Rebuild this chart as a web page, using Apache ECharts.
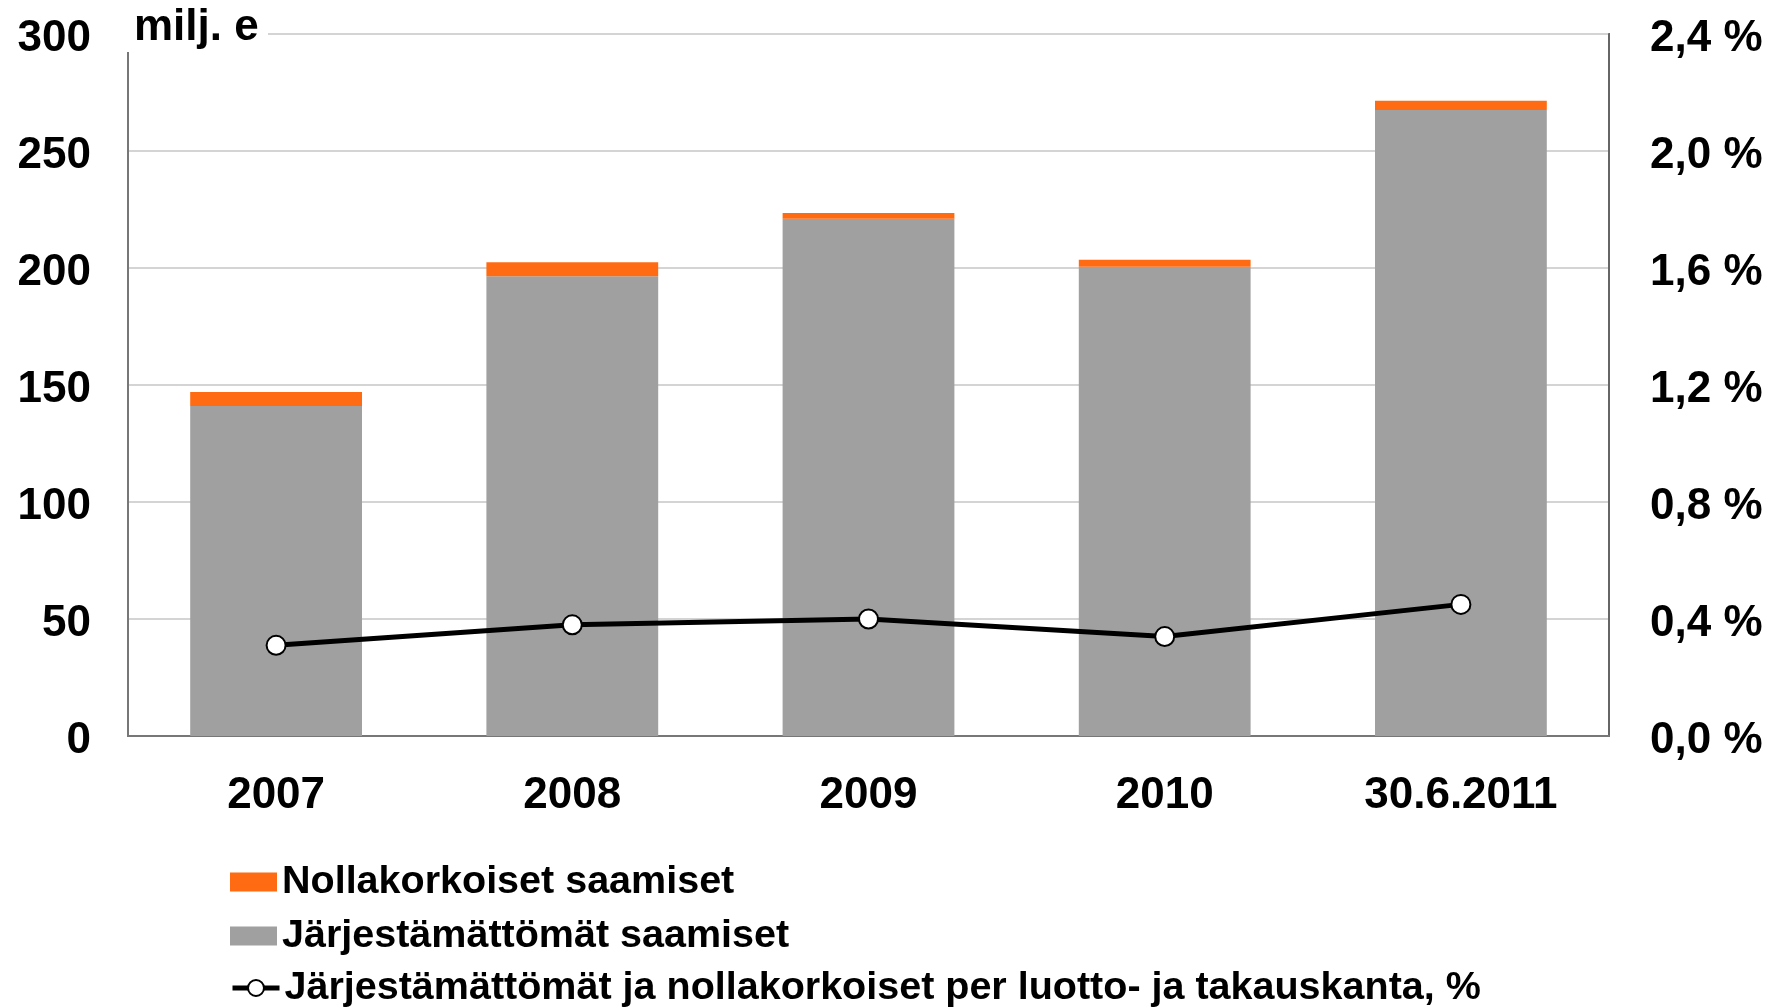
<!DOCTYPE html>
<html>
<head>
<meta charset="utf-8">
<script src="https://cdn.jsdelivr.net/npm/echarts@6/dist/echarts.min.js"></script>
<style>
  html, body { margin: 0; padding: 0; background: #ffffff; }
  #chart { width: 1782px; height: 1007px; }
</style>
</head>
<body>
<div id="chart"></div>
<script>
// Luottosalkun järjestämättömät ja nollakorkoiset saamiset
const categories = ['2007', '2008', '2009', '2010', '30.6.2011'];
const jarjestamattomat = [141, 196.5, 221, 200.5, 267.5];   // milj. e
const nollakorkoiset = [6, 6, 2.5, 3, 4];                    // milj. e
const osuusProsentti = [0.31, 0.38, 0.40, 0.34, 0.45];        // % luotto- ja takauskannasta

const leftTicks = { min: 0, max: 300, interval: 50 };
const rightTicks = { min: 0, max: 2.4, interval: 0.4 };

const nameOrange = 'Nollakorkoiset saamiset';
const nameGray = 'Järjestämättömät saamiset';
const nameLine = 'Järjestämättömät ja nollakorkoiset per luotto- ja takauskanta, %';

const FONT = "'Liberation Sans', Arial, sans-serif";
const axisText = { color: '#000', fontFamily: FONT, fontWeight: 'bold', fontSize: 44 };
const legendText = { color: '#000', fontFamily: FONT, fontWeight: 'bold', fontSize: 39.5, lineHeight: 40 };
// value labels sit slightly below their grid line
const tickRich = { t: Object.assign({ padding: [9, 0, 0, 0] }, axisText) };

function legendRow(name, top, extra) {
  return Object.assign({
    data: [name], orient: 'vertical', left: 230, top: top, padding: 0,
    itemWidth: 47, itemHeight: 19, itemGap: 0, selectedMode: false,
    textStyle: legendText
  }, extra);
}

const chart = echarts.init(document.getElementById('chart'), null, { renderer: 'canvas' });
chart.setOption({
  animation: false,
  backgroundColor: '#ffffff',
  grid: {
    left: 128, right: 173, top: 34, bottom: 271,
    show: true, borderColor: '#777777', borderWidth: 2, backgroundColor: 'transparent'
  },
  legend: [
    legendRow(nameOrange, 862, { icon: 'rect' }),
    legendRow(nameGray, 916, { icon: 'rect' }),
    legendRow(nameLine, 968, { itemHeight: 20, lineStyle: { width: 5 } })
  ],
  xAxis: {
    type: 'category', data: categories,
    axisLine: { show: true, lineStyle: { color: '#777777', width: 2 } },
    axisTick: { show: false },
    axisLabel: Object.assign({ margin: 38 }, axisText),
    splitLine: { show: false }
  },
  yAxis: [
    Object.assign({
      type: 'value', position: 'left',
      axisLine: { show: true, lineStyle: { color: '#777777', width: 2 } },
      axisTick: { show: false },
      axisLabel: Object.assign({
        margin: 37, rich: tickRich,
        formatter: v => '{t|' + v + '}'
      }, axisText),
      splitLine: { show: true, lineStyle: { color: '#d4d4d4', width: 2 } }
    }, leftTicks),
    Object.assign({
      type: 'value', position: 'right',
      axisLine: { show: true, lineStyle: { color: '#666666', width: 2 } },
      axisTick: { show: false },
      axisLabel: Object.assign({
        margin: 41, rich: tickRich,
        formatter: v => '{t|' + v.toFixed(1).replace('.', ',') + ' %}'
      }, axisText),
      splitLine: { show: false }
    }, rightTicks)
  ],
  series: [
    {
      name: nameGray, type: 'bar', stack: 'saamiset', data: jarjestamattomat,
      barWidth: '58%', itemStyle: { color: '#a0a0a0' }
    },
    {
      name: nameOrange, type: 'bar', stack: 'saamiset', data: nollakorkoiset,
      barWidth: '58%', itemStyle: { color: '#ff6b12' }
    },
    {
      name: nameLine, type: 'line', yAxisIndex: 1, data: osuusProsentti,
      z: 5,
      lineStyle: { color: '#000000', width: 5 },
      symbol: 'circle', symbolSize: 19,
      itemStyle: { color: '#ffffff', borderColor: '#000000', borderWidth: 2 }
    }
  ],
  graphic: [
    {
      type: 'rect', z: 100, left: 120, top: 0,
      shape: { width: 148, height: 52 },
      style: { fill: '#ffffff' }
    },
    {
      type: 'text', z: 101, left: 134, top: 6,
      style: { text: 'milj. e', fill: '#000', font: "bold 44px 'Liberation Sans', Arial, sans-serif" }
    }
  ]
});
</script>
</body>
</html>
